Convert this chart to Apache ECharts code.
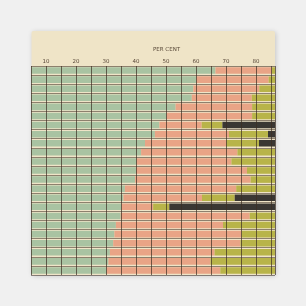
<!DOCTYPE html>
<html>
<head>
<meta charset="utf-8">
<script src="https://cdn.jsdelivr.net/npm/echarts@6/dist/echarts.min.js"></script>
<style>
html,body{margin:0;padding:0;background:#f0f0f0;}
#c{width:306px;height:306px;}
</style>
</head>
<body>
<div id="c"></div>
<script>
var rows = ['1','2','3','4','5','6','7','8','9','10','11','12','13','14','15','16','17','18','19','20','21','22','23'];
var tickLabels = [10,20,30,40,50,60,70,80];
var green  = [66.5,60.1,59.1,58.6,53.2,50.2,47.8,46.3,43.0,41.7,40.2,40.0,39.7,36.3,35.8,35.2,34.9,33.3,32.8,32.4,31.3,30.8,30.2];
var salmon = [18.8,24.1,22.0,20.0,25.5,28.5,14.1,24.7,27.1,32.1,31.6,37.0,38.5,37.1,26.2,10.5,43.0,35.7,42.4,42.4,34.9,34.0,37.9];
var olive  = [14.7,15.8,18.9,21.4,21.3,21.3,6.9,13.0,10.9,26.2,28.2,23.0,21.8,26.6,10.9,5.4,22.1,31.0,24.8,25.2,33.8,35.2,31.9];
var black  = [0,0,0,0,0,0,31.2,16.0,19.0,0,0,0,0,0,27.1,48.9,0,0,0,0,0,0,0];

var chart = echarts.init(document.getElementById('c'), null, {renderer:'canvas'});
function bar(name, data, color){
  return {type:'bar', name:name, stack:'all', data:data, barCategoryGap:'28%',
    itemStyle:{color:color}, clip:true, silent:true, animation:false};
}
chart.setOption({
  backgroundColor:'#f0f0f0',
  animation:false,
  graphic:[
    {type:'rect', z:0, shape:{x:31.5,y:31,width:243.5,height:244,r:2},
     style:{fill:'#efe4c7', shadowBlur:5, shadowColor:'rgba(0,0,0,0.18)', shadowOffsetX:1, shadowOffsetY:1}},
    {type:'text', z:10, left:153, top:47, style:{text:'PER CENT', fill:'#5a4a3a', font:'5.5px "DejaVu Sans"'}}
  ],
  grid:{left:31, right:31, top:66, bottom:31},
  xAxis:{type:'value', position:'top', min:5, max:86.33, interval:5, z:5,
    axisLine:{show:false}, axisTick:{show:false},
    axisLabel:{margin:1.5, fontSize:5.5, color:'#5a4a3a', fontFamily:'DejaVu Sans',
      formatter:function(v){ return tickLabels.indexOf(Math.round(v))>=0 && Math.abs(v-Math.round(v))<0.01 ? String(Math.round(v)) : ''; }},
    splitLine:{show:true, lineStyle:{color:'rgba(60,46,34,0.7)', width:1}}
  },
  yAxis:{type:'category', data:rows, inverse:true, z:5,
    axisLine:{show:false}, axisTick:{show:false}, axisLabel:{show:false},
    splitLine:{show:true, interval:0, lineStyle:{color:'rgba(60,46,34,0.55)', width:1}}
  },
  series:[
    bar('green', green, '#a9c3a2'),
    bar('salmon', salmon, '#e9a486'),
    bar('olive', olive, '#b8b449'),
    bar('black', black, '#3a3733')
  ]
});
</script>
</body>
</html>
